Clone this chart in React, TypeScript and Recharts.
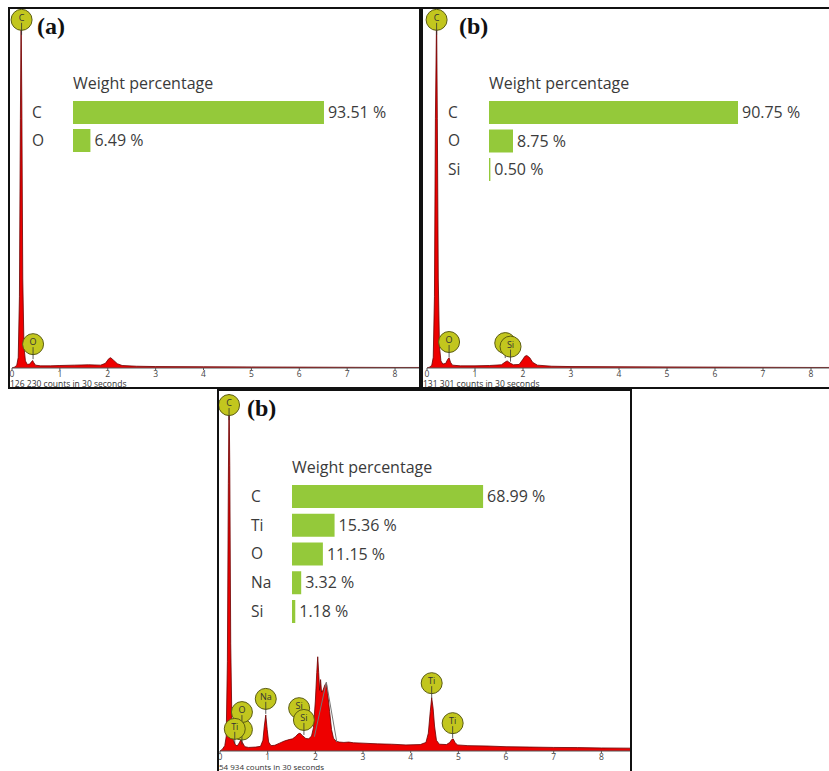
import { ComposedChart, Area, Line, XAxis, YAxis, ReferenceDot, BarChart, Bar, LabelList } from "recharts";

// energy axis ticks (keV)
const kevTicks = [0, 1, 2, 3, 4, 5, 6, 7, 8];

// EDS spectra: [energy keV, intensity as % of the C Ka peak]
const spectrumA: [number, number][] = [
  [0, 0], [0.06, 0.3], [0.1, 0.8], [0.13, 3], [0.155, 20], [0.175, 70], [0.19, 100], [0.205, 75],
  [0.225, 25], [0.25, 6], [0.28, 2], [0.32, 1], [0.37, 1.1], [0.41, 1.8], [0.43, 2.1], [0.45, 1.6],
  [0.49, 0.8], [0.6, 0.6], [0.8, 0.6], [1.0, 0.7], [1.3, 0.8], [1.6, 0.9], [1.85, 0.8], [1.95, 1.3],
  [2.02, 2.6], [2.06, 2.9], [2.12, 2.2], [2.2, 1.2], [2.3, 0.7], [2.6, 0.5], [3, 0.4], [4, 0.35],
  [5, 0.3], [6, 0.25], [7, 0.2], [8, 0.15], [8.5, 0.15],
];
const spectrumB: [number, number][] = [
  [0, 0], [0.06, 0.3], [0.1, 0.8], [0.13, 3], [0.155, 20], [0.175, 70], [0.2, 100], [0.215, 70],
  [0.235, 25], [0.26, 6], [0.29, 2], [0.33, 1.1], [0.39, 1.3], [0.43, 2.4], [0.46, 2.9], [0.49, 1.6],
  [0.53, 0.8], [0.7, 0.6], [1, 0.6], [1.3, 0.7], [1.55, 0.9], [1.62, 1.6], [1.67, 2.0], [1.73, 1.4],
  [1.8, 0.9], [1.92, 1.0], [1.99, 2.3], [2.04, 3.3], [2.08, 3.5], [2.14, 2.9], [2.2, 1.6], [2.3, 0.8],
  [2.6, 0.5], [3, 0.4], [4, 0.35], [5, 0.3], [6, 0.25], [7, 0.2], [8, 0.15], [8.5, 0.15],
];
const spectrumC: [number, number][] = [
  [0, 0], [0.05, 0.5], [0.1, 1.5], [0.13, 4], [0.155, 25], [0.175, 75], [0.19, 100], [0.205, 80],
  [0.225, 30], [0.25, 8], [0.28, 3], [0.32, 1.8], [0.36, 1.4], [0.4, 2.2], [0.44, 3.2], [0.47, 2.4],
  [0.52, 1.2], [0.6, 1.0], [0.75, 1.1], [0.85, 1.3], [0.9, 3], [0.93, 7], [0.96, 10.1], [0.99, 6],
  [1.02, 2.5], [1.07, 1.5], [1.15, 1.6], [1.25, 2.2], [1.35, 2.8], [1.45, 3.2], [1.52, 3.4],
  [1.58, 4.0], [1.64, 4.8], [1.68, 5.0], [1.73, 4.3], [1.8, 3.5], [1.86, 3.4], [1.92, 4.2],
  [1.96, 6.5], [2.0, 14], [2.03, 22], [2.05, 26.4], [2.07, 22], [2.09, 17], [2.11, 20], [2.13, 16.5],
  [2.16, 17], [2.2, 18.5], [2.23, 19], [2.26, 16], [2.3, 11], [2.34, 6], [2.38, 3.6], [2.43, 2.8],
  [2.5, 2.5], [2.6, 2.4], [2.7, 2.5], [2.8, 2.3], [3, 2.2], [3.3, 2.0], [3.6, 1.9], [3.9, 1.7],
  [4.2, 1.8], [4.32, 2.4], [4.37, 5], [4.41, 11], [4.44, 14.9], [4.47, 12], [4.5, 7], [4.54, 3],
  [4.6, 1.9], [4.75, 1.8], [4.82, 2.4], [4.86, 3.2], [4.89, 3.4], [4.93, 2.4], [4.98, 1.7],
  [5.2, 1.5], [5.6, 1.4], [6, 1.2], [6.5, 1.1], [7, 1.0], [7.5, 0.95], [8, 0.85], [8.6, 0.8],
];
// fitted profile over the 2.0-2.4 keV region
const fitC: [number, number][] = [[1.98, 4], [2.23, 19.3], [2.45, 2.5]];

// peak identification markers (empty label = circle sitting behind another one)
const peaksA = [
  { el: "C", e: 0.2, y: 97.8 },
  { el: "O", e: 0.44, y: 6.7 },
];
const peaksB = [
  { el: "C", e: 0.2, y: 97.8 },
  { el: "O", e: 0.46, y: 7.3 },
  { el: "", e: 1.63, y: 7.0 },
  { el: "Si", e: 1.74, y: 6.0 },
];
const peaksC = [
  { el: "C", e: 0.19, y: 96.9 },
  { el: "", e: 0.46, y: 6.0 },
  { el: "O", e: 0.46, y: 10.9 },
  { el: "Ti", e: 0.31, y: 6.2 },
  { el: "Na", e: 0.96, y: 14.6 },
  { el: "Si", e: 1.66, y: 12.0 },
  { el: "Si", e: 1.76, y: 8.7 },
  { el: "Ti", e: 4.44, y: 19.0 },
  { el: "Ti", e: 4.88, y: 7.8 },
];

// weight percentages
const elementsA = ["C", "O"];
const weightsA = [93.51, 6.49];
const elementsB = ["C", "O", "Si"];
const weightsB = [90.75, 8.75, 0.5];
const elementsC = ["C", "Ti", "O", "Na", "Si"];
const weightsC = [68.99, 15.36, 11.15, 3.32, 1.18];

const countsA = "126 230 counts in 30 seconds";
const countsB = "131 301 counts in 30 seconds";
const countsC = "54 934 counts in 30 seconds";

const SANS = '"Open Sans", "Noto Sans", sans-serif';
const TEXT = "#3a3a3a";

const markerShape = (el: string) => (p: any) => (
  <g>
    <circle cx={p.cx} cy={p.cy} r={10.5} fill="#c2c61e" stroke="#5b5c12" strokeWidth={1} />
    {el && (
      <text x={p.cx} y={p.cy + 1} textAnchor="middle" fontSize={9} fontFamily={SANS} fill="#333">
        {el}
      </text>
    )}
    <line x1={p.cx} x2={p.cx} y1={p.cy + 3} y2={p.cy + 15} stroke="#333" strokeWidth={0.8} />
  </g>
);

type SpectrumProps = {
  points: [number, number][];
  peaks: { el: string; e: number; y: number }[];
  fit?: [number, number][];
  maxKev: number;
  width: number;
  height: number;
  left: number;
  top: number;
  plotHeight: number;
};

function Spectrum({ points, peaks, fit, maxKev, width, height, left, top, plotHeight }: SpectrumProps) {
  const data = points.map(([e, c]) => ({ e, c }));
  const fitData = fit ? fit.map(([e, f]) => ({ e, f })) : null;
  return (
    <div style={{ position: "absolute", left: 0, top: 0 }}>
      <ComposedChart width={width} height={height} margin={{ top, right: 0, bottom: 0, left }}>
        <XAxis
          type="number"
          dataKey="e"
          domain={[0, maxKev]}
          ticks={kevTicks}
          interval={0}
          allowDataOverflow
          height={height - top - plotHeight}
          tickSize={2}
          tickMargin={1}
          axisLine={{ stroke: "#555" }}
          tickLine={{ stroke: "#555" }}
          tick={{ fontSize: 8.5, fill: "#444", fontFamily: SANS }}
        />
        <YAxis hide domain={[0, 100]} allowDataOverflow />
        <Area
          data={data}
          dataKey="c"
          type="linear"
          fill="#ee0000"
          fillOpacity={1}
          stroke="#6a0000"
          strokeWidth={0.8}
          dot={false}
          activeDot={false}
          isAnimationActive={false}
        />
        {fitData && (
          <Line
            data={fitData}
            dataKey="f"
            type="linear"
            stroke="#777"
            strokeWidth={1}
            dot={false}
            activeDot={false}
            isAnimationActive={false}
          />
        )}
        {peaks.map((p, i) => (
          <ReferenceDot key={i} x={p.e} y={p.y} r={10.5} shape={markerShape(p.el)} />
        ))}
      </ComposedChart>
    </div>
  );
}

const ElementTick = (p: any) => (
  <text x={1} y={p.y} dy="0.36em" fontSize={15.5} fill={TEXT} fontFamily={SANS}>
    {p.payload.value}
  </text>
);

type BarsProps = {
  names: string[];
  values: number[];
  left: number;
  top: number;
  pxPerPct: number;
  pitch: number;
};

function WeightBars({ names, values, left, top, pxPerPct, pitch }: BarsProps) {
  const data = names.map((el, i) => ({ el, w: values[i] }));
  const plotW = pxPerPct * 100;
  return (
    <div style={{ position: "absolute", left, top }}>
      <div
        style={{
          position: "absolute",
          left: 42,
          top: -23,
          fontSize: 16,
          lineHeight: "16px",
          color: TEXT,
          fontFamily: SANS,
          whiteSpace: "nowrap",
        }}
      >
        Weight percentage
      </div>
      <BarChart
        width={42 + plotW + 75}
        height={pitch * names.length}
        data={data}
        layout="vertical"
        margin={{ top: 0, right: 75, bottom: 0, left: 0 }}
      >
        <XAxis type="number" domain={[0, 100]} hide />
        <YAxis
          type="category"
          dataKey="el"
          width={42}
          axisLine={false}
          tickLine={false}
          interval={0}
          tick={ElementTick}
        />
        <Bar dataKey="w" fill="#94c93a" barSize={23} isAnimationActive={false}>
          <LabelList
            dataKey="w"
            position="right"
            offset={4}
            formatter={(v: any) => `${Number(v).toFixed(2)} %`}
            fill="#3c3c3c"
            fontSize={16}
            fontFamily={SANS}
          />
        </Bar>
      </BarChart>
    </div>
  );
}

const tagStyle = {
  position: "absolute" as const,
  fontFamily: '"Liberation Serif", "Times New Roman", serif',
  fontWeight: 700,
  fontSize: 24,
  lineHeight: "24px",
  color: "#111",
};

const countsStyle = {
  position: "absolute" as const,
  left: 0,
  top: 371,
  fontSize: 8.5,
  lineHeight: "8px",
  color: "#333",
  fontFamily: SANS,
  whiteSpace: "nowrap" as const,
};

const frame = (left: number, top: number, width: number, height: number) => ({
  position: "absolute" as const,
  left,
  top,
  width,
  height,
  boxSizing: "border-box" as const,
  border: "2px solid #111",
  background: "#fff",
  overflow: "hidden" as const,
});

export default function App() {
  return (
    <div
      style={{
        position: "absolute",
        left: 0,
        top: 0,
        width: 829,
        height: 771,
        overflow: "hidden",
        background: "#fff",
      }}
    >
      {/* (a) */}
      <div style={frame(8, 7, 413, 382)}>
        <Spectrum points={spectrumA} peaks={peaksA} maxKev={8.5} width={409} height={378} left={2} top={3} plotHeight={356} />
        <div style={countsStyle}>{countsA}</div>
        <div style={{ ...tagStyle, left: 27, top: 5 }}>(a)</div>
        <WeightBars names={elementsA} values={weightsA} left={21} top={89} pxPerPct={2.684} pitch={28} />
      </div>

      {/* (b) */}
      <div style={frame(421, 7, 420, 382)}>
        <Spectrum points={spectrumB} peaks={peaksB} maxKev={8.5} width={412} height={378} left={4} top={3} plotHeight={356} />
        <div style={countsStyle}>{countsB}</div>
        <div style={{ ...tagStyle, left: 36, top: 5 }}>(b)</div>
        <WeightBars names={elementsB} values={weightsB} left={24} top={89} pxPerPct={2.744} pitch={28.5} />
      </div>

      {/* (c) */}
      <div style={frame(217, 389, 415, 392)}>
        <Spectrum points={spectrumC} peaks={peaksC} fit={fitC} maxKev={8.6} width={411} height={388} left={1} top={3} plotHeight={357} />
        <div style={{ ...countsStyle, top: 372, fontSize: 8 }}>{countsC}</div>
        <div style={{ ...tagStyle, left: 28, top: 5 }}>(b)</div>
        <WeightBars names={elementsC} values={weightsC} left={31} top={91} pxPerPct={2.77} pitch={28.75} />
      </div>
    </div>
  );
}
